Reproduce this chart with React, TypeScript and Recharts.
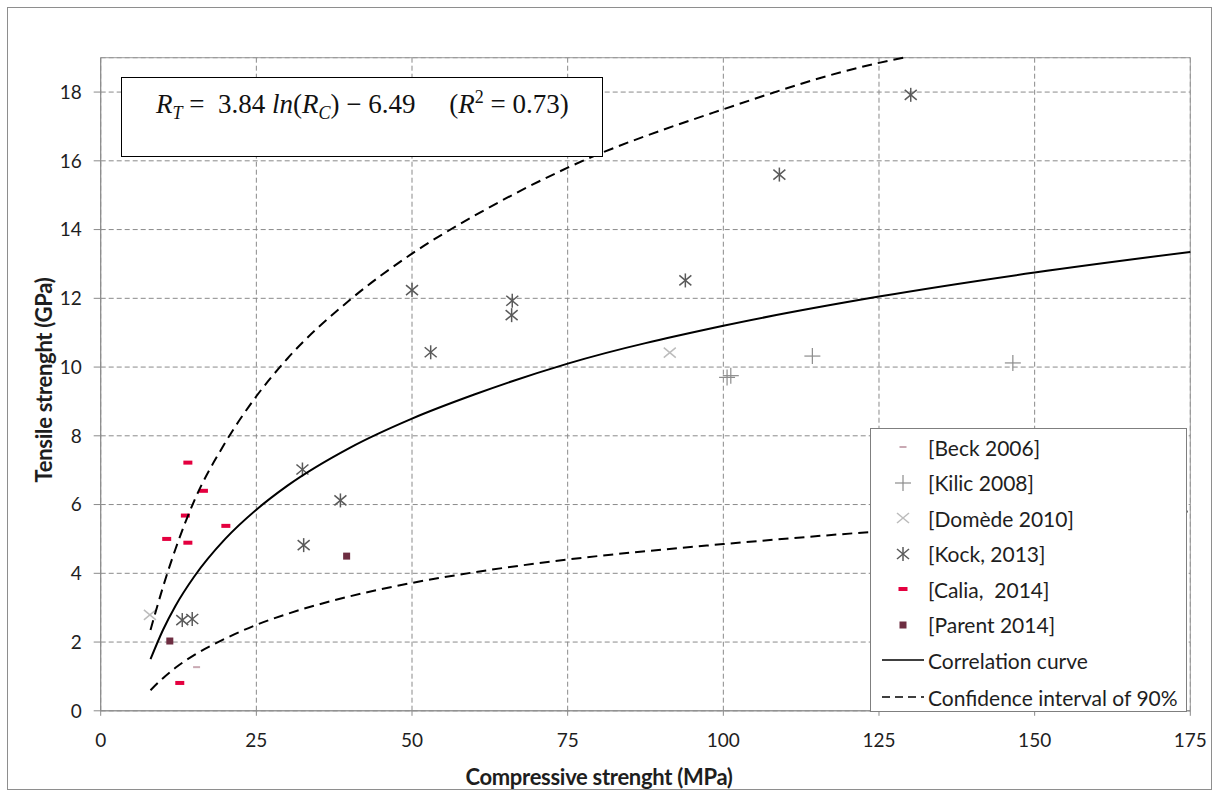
import React from "react";
import { ScatterChart, Scatter, XAxis, YAxis, CartesianGrid, ReferenceArea } from "recharts";

// measured points, compressive strength (MPa) vs tensile strength
const beckRc = [15.4];
const beckRt = [1.27];
const kilicRc = [100.6, 101.2, 114.3, 146.5];
const kilicRt = [9.7, 9.75, 10.32, 10.12];
const domedeRc = [7.9, 91.4];
const domedeRt = [2.79, 10.42];
const kockRc = [13.1, 14.7, 32.4, 38.5, 32.6, 50.0, 53.0, 66.1, 66.0, 93.9, 109.0, 130.1];
const kockRt = [2.64, 2.67, 7.02, 6.12, 4.82, 12.24, 10.43, 11.93, 11.51, 12.52, 15.6, 17.92];
const caliaRc = [14.0, 16.5, 13.6, 20.1, 10.6, 14.0, 12.7];
const caliaRt = [7.22, 6.4, 5.68, 5.38, 5.0, 4.89, 0.81];
const parentRc = [11.1, 39.5];
const parentRt = [2.03, 4.5];

// curves
const curveRc = [8, 10, 12, 15, 20, 25, 30, 40, 50, 60, 75, 100, 125, 150, 175];
const correlationRt = [1.5, 2.35, 3.05, 3.9, 5.0, 5.85, 6.55, 7.65, 8.5, 9.2, 10.1, 11.2, 12.05, 12.75, 13.35];
const lowerRt = [0.6, 0.95, 1.25, 1.62, 2.1, 2.5, 2.82, 3.33, 3.72, 4.03, 4.4, 4.85, 5.22, 5.52, 5.8];
const upperRc = [8, 10, 12, 15, 20, 25, 30, 40, 50, 60, 75, 100, 125, 129];
const upperRt = [2.35, 3.6, 4.7, 6.1, 7.8, 9.15, 10.25, 11.95, 13.3, 14.4, 15.8, 17.5, 18.85, 19.0];

const xTicks = [0, 25, 50, 75, 100, 125, 150, 175];
const yTicks = [0, 2, 4, 6, 8, 10, 12, 14, 16, 18];

const zip = (xs: number[], ys: number[]) => xs.map((x, i) => ({ x, y: ys[i] }));

const sans = "Lato, 'Liberation Sans', Arial, sans-serif";
const gridGray = "#8a8a8a";

const Kock = ({ cx, cy }: any) => (
  <g stroke="#5a5a5a" strokeWidth={1.5}>
    <line x1={cx} y1={cy - 7} x2={cx} y2={cy + 7} />
    <line x1={cx - 6} y1={cy - 5} x2={cx + 6} y2={cy + 5} />
    <line x1={cx - 6} y1={cy + 5} x2={cx + 6} y2={cy - 5} />
  </g>
);
const Kilic = ({ cx, cy }: any) => (
  <g stroke="#8c8c8c" strokeWidth={1.2}>
    <line x1={cx - 8} y1={cy} x2={cx + 8} y2={cy} />
    <line x1={cx} y1={cy - 8} x2={cx} y2={cy + 8} />
  </g>
);
const Domede = ({ cx, cy }: any) => (
  <g stroke="#bcbcbc" strokeWidth={1.5}>
    <line x1={cx - 6} y1={cy - 5} x2={cx + 6} y2={cy + 5} />
    <line x1={cx - 6} y1={cy + 5} x2={cx + 6} y2={cy - 5} />
  </g>
);
const Beck = ({ cx, cy }: any) => <rect x={cx - 3.5} y={cy - 1} width={7} height={2} fill="#c9a9b3" />;
const Calia = ({ cx, cy }: any) => <rect x={cx - 4.5} y={cy - 2} width={9} height={4} fill="#e4003f" />;
const Parent = ({ cx, cy }: any) => <rect x={cx - 3.5} y={cy - 3.5} width={7} height={7} fill="#6e2e42" />;
const NoDot = () => <g />;

const legendRows = [
  { label: "[Beck 2006]", icon: <Beck cx={21} cy={10} /> },
  { label: "[Kilic 2008]", icon: <Kilic cx={21} cy={10} /> },
  { label: "[Domède 2010]", icon: <Domede cx={21} cy={10} /> },
  { label: "[Kock, 2013]", icon: <Kock cx={21} cy={10} /> },
  { label: "[Calia,  2014]", icon: <Calia cx={21} cy={10} /> },
  { label: "[Parent 2014]", icon: <Parent cx={21} cy={10} /> },
  { label: "Correlation curve", icon: <line x1={0} y1={10} x2={42} y2={10} stroke="#000" strokeWidth={1.5} /> },
  { label: "Confidence interval of 90%", icon: <line x1={0} y1={10} x2={42} y2={10} stroke="#000" strokeWidth={1.5} strokeDasharray="8 5" /> },
];

export default function App() {
  return (
    <div
      style={{
        position: "absolute",
        left: 7,
        top: 7,
        width: 1203,
        height: 781,
        border: "1px solid #8e8e8e",
        background: "#fff",
        fontFamily: sans,
      }}
    >
      <ScatterChart width={1203} height={781} margin={{ top: 49.7, right: 20.7, bottom: 48.2, left: 30.7 }}>
        <CartesianGrid stroke={gridGray} strokeDasharray="5 3" />
        <ReferenceArea x1={0} x2={175} y1={0} y2={19} fill="none" stroke="#9a9a9a" strokeWidth={1} />
        <XAxis
          type="number"
          dataKey="x"
          domain={[0, 175]}
          ticks={xTicks}
          height={30}
          tickSize={5}
          tickMargin={18}
          axisLine={{ stroke: "#8a8a8a" }}
          tickLine={{ stroke: "#8a8a8a" }}
          tick={{ fill: "#1e1e1e", fontSize: 19, fontFamily: sans }}
        />
        <YAxis
          type="number"
          dataKey="y"
          domain={[0, 19]}
          ticks={yTicks}
          width={62}
          tickSize={7}
          tickMargin={12}
          axisLine={{ stroke: "#8a8a8a" }}
          tickLine={{ stroke: "#8a8a8a" }}
          tick={{ fill: "#1e1e1e", fontSize: 19, fontFamily: sans }}
        />
        <Scatter data={zip(beckRc, beckRt)} shape={Beck} isAnimationActive={false} />
        <Scatter data={zip(kilicRc, kilicRt)} shape={Kilic} isAnimationActive={false} />
        <Scatter data={zip(domedeRc, domedeRt)} shape={Domede} isAnimationActive={false} />
        <Scatter data={zip(kockRc, kockRt)} shape={Kock} isAnimationActive={false} />
        <Scatter data={zip(caliaRc, caliaRt)} shape={Calia} isAnimationActive={false} />
        <Scatter data={zip(parentRc, parentRt)} shape={Parent} isAnimationActive={false} />
        <Scatter
          data={zip(curveRc, correlationRt)}
          line={{ stroke: "#000", strokeWidth: 2 }}
          lineJointType="monotoneX"
          shape={NoDot}
          isAnimationActive={false}
        />
        <Scatter
          data={zip(upperRc, upperRt)}
          line={{ stroke: "#000", strokeWidth: 2, strokeDasharray: "10 6" }}
          lineJointType="monotoneX"
          shape={NoDot}
          isAnimationActive={false}
        />
        <Scatter
          data={zip(curveRc, lowerRt)}
          line={{ stroke: "#000", strokeWidth: 2, strokeDasharray: "10 6" }}
          lineJointType="monotoneX"
          shape={NoDot}
          isAnimationActive={false}
        />
      </ScatterChart>

      {/* equation box */}
      <div
        style={{
          position: "absolute",
          left: 113,
          top: 69,
          width: 480,
          height: 78,
          border: "1px solid #000",
          background: "#fff",
          fontFamily: "'Liberation Serif', 'DejaVu Serif', serif",
          fontSize: 27,
          color: "#111",
          whiteSpace: "pre",
        }}
      >
        <div style={{ position: "absolute", left: 34, top: 9 }}>
          <i>R</i>
          <sub style={{ fontSize: 18 }}><i>T</i></sub>
          {" =  3.84 "}
          <i>ln</i>(<i>R</i>
          <sub style={{ fontSize: 18 }}><i>C</i></sub>) − 6.49{"     "}(<i>R</i>
          <sup style={{ fontSize: 18 }}>2</sup> = 0.73)
        </div>
      </div>

      {/* axis titles */}
      <div
        style={{
          position: "absolute",
          left: 591,
          top: 768,
          transform: "translate(-50%, -50%)",
          fontWeight: "bold",
          fontSize: 22,
          letterSpacing: -0.3,
          whiteSpace: "nowrap",
          color: "#1e1e1e",
        }}
      >
        Compressive strenght (MPa)
      </div>
      <div
        style={{
          position: "absolute",
          left: 35,
          top: 372,
          transform: "translate(-50%, -50%) rotate(-90deg)",
          fontWeight: "bold",
          fontSize: 22,
          letterSpacing: -0.3,
          whiteSpace: "nowrap",
          color: "#1e1e1e",
        }}
      >
        Tensile strenght (GPa)
      </div>

      {/* legend */}
      <div
        style={{
          position: "absolute",
          left: 862,
          top: 420,
          width: 317,
          height: 284,
          border: "1px solid #7f7f7f",
          background: "#fff",
          boxSizing: "border-box",
          paddingTop: 1,
        }}
      >
        {legendRows.map((r, i) => (
          <div key={i} style={{ position: "absolute", left: 11, top: 8 + i * 35.5 + (i === 7 ? 1.5 : 0), height: 20, display: "flex", alignItems: "center" }}>
            <svg width={44} height={20} style={{ overflow: "visible" }}>
              {r.icon}
            </svg>
            <span style={{ marginLeft: 2, fontSize: 21, color: "#1e1e1e", whiteSpace: "pre" }}>{r.label}</span>
          </div>
        ))}
      </div>
    </div>
  );
}
